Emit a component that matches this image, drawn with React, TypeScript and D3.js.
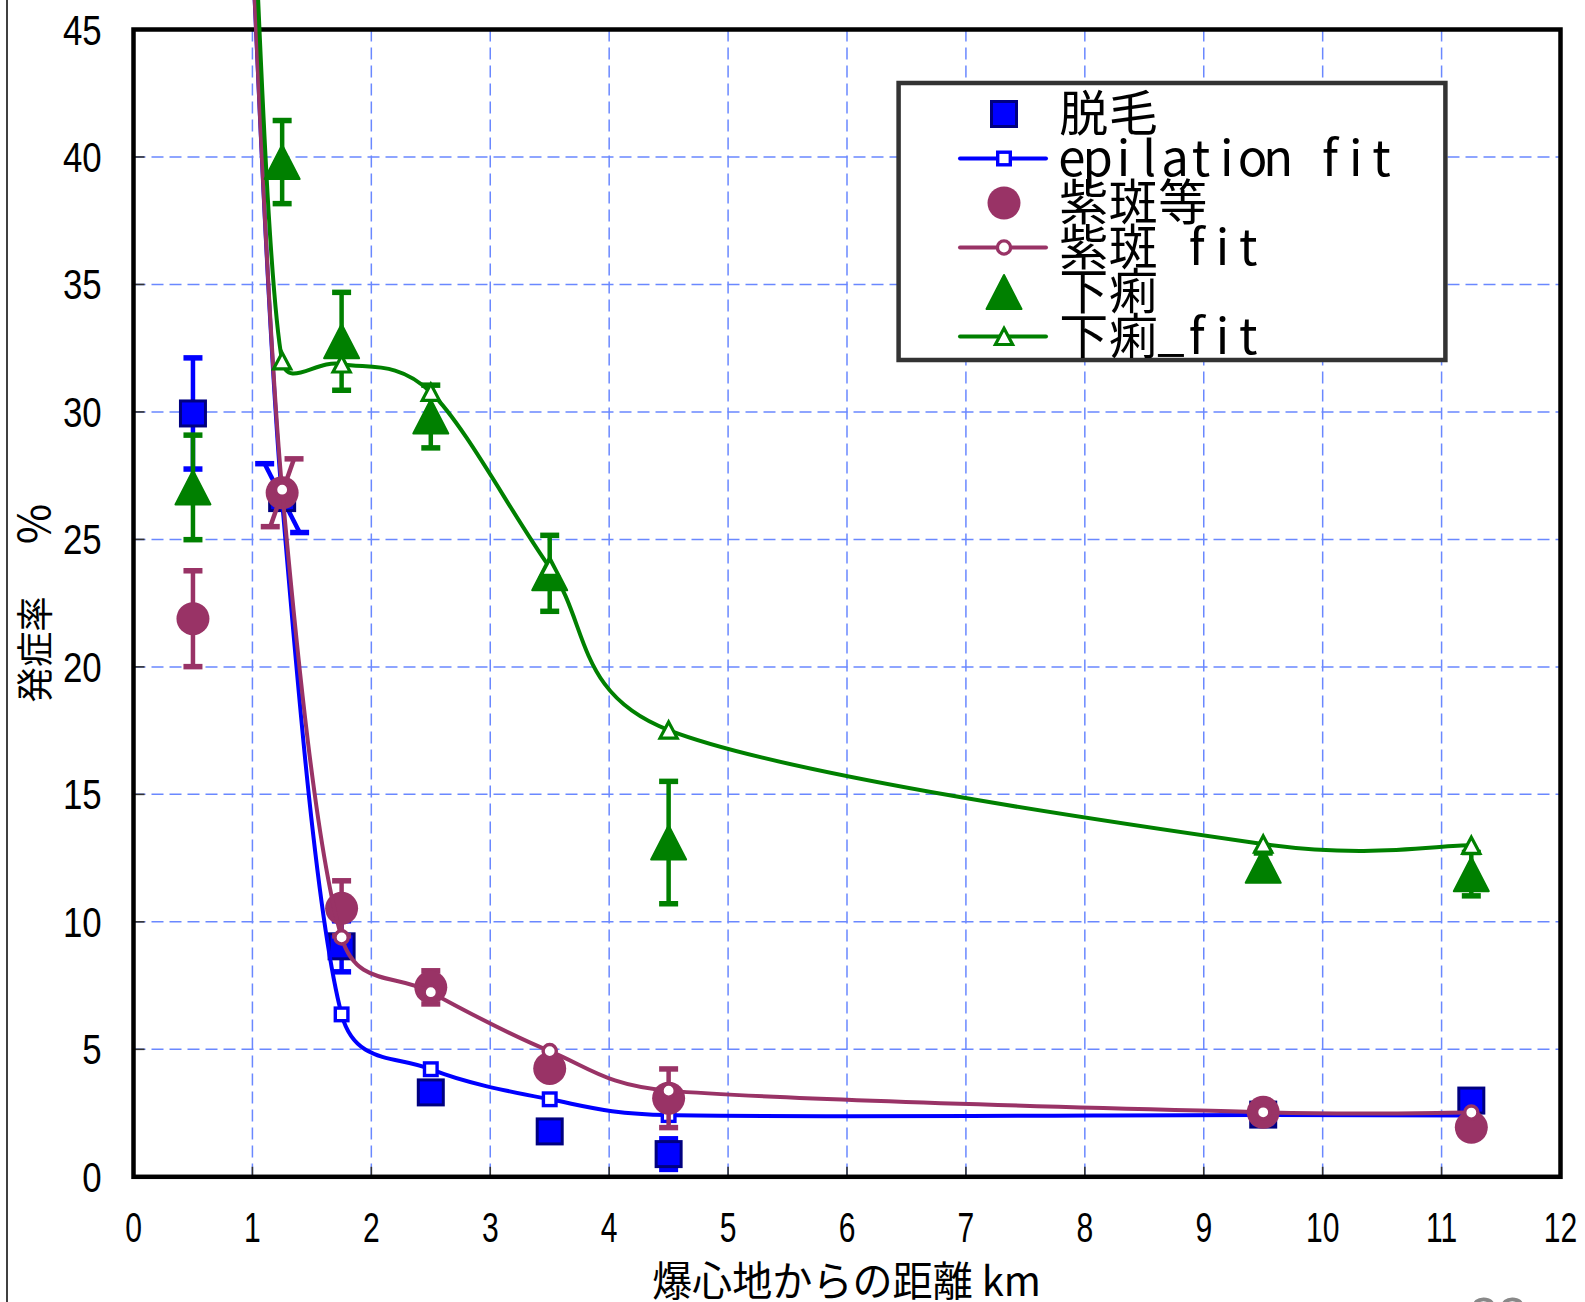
import React from 'react';
import * as d3 from 'd3';

// ---------- data ----------
const distances = [0.5, 1.25, 1.75, 2.5, 3.5, 4.5, 9.5, 11.25];
const epilation = [29.94, 26.62, 9.04, 3.31, 1.78, 0.89, 2.44, 2.99];
const epilationErr = [2.18, 1.35, 1.0, 0.3, 0.2, 0.6, 0.2, 0.2];
const purpura = [21.89, 26.83, 10.53, 7.43, 4.25, 3.08, 2.53, 1.94];
const purpuraErr = [1.88, 1.33, 1.08, 0.65, 0.3, 1.15, 0.3, 0.3];
const diarrhea = [27.04, 39.8, 32.77, 29.82, 23.67, 13.11, 12.2, 11.87];
const diarrheaErr = [2.05, 1.63, 1.92, 1.23, 1.49, 2.4, 0.5, 0.85];

const fitDistances = [1.0, 1.25, 1.75, 2.5, 3.5, 4.5, 9.5, 11.25];
const epilationFit = [48, 26.5, 6.37, 4.22, 3.04, 2.42, 2.42, 2.4];
const purpuraFit = [48, 26.95, 9.39, 7.24, 4.93, 3.38, 2.53, 2.52];
const diarrheaFit = [51, 32.0, 31.88, 30.77, 23.9, 17.52, 13.05, 13.0];

const xTickValues = d3.range(0, 13, 1);
const yTickValues = d3.range(0, 50, 5);

const legendLabels = ['脱毛', 'epilation fit', '紫斑等', '紫斑 fit', '下痢', '下痢_fit'];
const xTitle = '爆心地からの距離 km';
const yTitle = '発症率';
const yUnit = '％';

// ---------- styles ----------
const BLUE = '#0000FF';
const NAVY = '#000080';
const PURPLE = '#993366';
const GREEN = '#008000';
const GRID = '#6a88ff';

const W = 1585;
const H = 1302;
const x = d3.scaleLinear().domain([0, 12]).range([133.5, 1560.5]);
const y = d3.scaleLinear().domain([0, 45]).range([1176.8, 29.5]);

// spreadsheet-style smoothed line (cubic Bezier, Catmull-Rom tangents with limited handles)
function smoothPath(pts: [number, number][]): string {
  const P = pts.map(([a, b]) => [x(a), y(b)] as [number, number]);
  const p = d3.path();
  const n = P.length;
  if (!n) return '';
  p.moveTo(P[0][0], P[0][1]);
  const dist = (a: number[], b: number[]) => Math.hypot(b[0] - a[0], b[1] - a[1]);
  for (let i = 0; i < n - 1; i++) {
    const p0 = P[i - 1] ?? P[i];
    const p1 = P[i];
    const p2 = P[i + 1];
    const p3 = P[i + 2] ?? P[i + 1];
    const seg = dist(p1, p2);
    const cap = 0.5 * seg;
    const t1 = [(p2[0] - p0[0]) / 6, (p2[1] - p0[1]) / 6];
    const l1 = Math.hypot(t1[0], t1[1]);
    const s1 = l1 > cap ? cap / l1 : 1;
    const t2 = [(p3[0] - p1[0]) / 6, (p3[1] - p1[1]) / 6];
    const l2 = Math.hypot(t2[0], t2[1]);
    const s2 = l2 > cap ? cap / l2 : 1;
    p.bezierCurveTo(
      p1[0] + t1[0] * s1,
      p1[1] + t1[1] * s1,
      p2[0] - t2[0] * s2,
      p2[1] - t2[1] * s2,
      p2[0],
      p2[1]
    );
  }
  return p.toString();
}

// tilt (in km) of the error bar at the 2nd point for the two overlapping series
const tiltEpilation = [0, -0.147, 0, 0, 0, 0, 0, 0];
const tiltPurpura = [0, 0.1, 0, 0, 0, 0, 0, 0];
const tiltNone = [0, 0, 0, 0, 0, 0, 0, 0];

type MarkerKind = 'square' | 'circle' | 'triangle';

function FilledMarker({ kind, cx, cy }: { kind: MarkerKind; cx: number; cy: number }) {
  if (kind === 'square')
    return <rect x={cx - 12.5} y={cy - 12.5} width={25} height={25} fill={BLUE} stroke={NAVY} strokeWidth={3} />;
  if (kind === 'circle') return <circle cx={cx} cy={cy} r={16.5} fill={PURPLE} />;
  return (
    <path
      d={`M${cx},${cy - 17} L${cx + 17.5},${cy + 17} L${cx - 17.5},${cy + 17} Z`}
      fill={GREEN}
      stroke={GREEN}
      strokeWidth={2}
      strokeLinejoin="round"
    />
  );
}

function OpenMarker({ kind, cx, cy }: { kind: MarkerKind; cx: number; cy: number }) {
  if (kind === 'square')
    return <rect x={cx - 6.3} y={cy - 6.3} width={12.6} height={12.6} fill="#fff" stroke={BLUE} strokeWidth={3.4} />;
  if (kind === 'circle') return <circle cx={cx} cy={cy} r={6.6} fill="#fff" stroke={PURPLE} strokeWidth={3.4} />;
  return (
    <path
      d={`M${cx},${cy - 8.2} L${cx + 8.6},${cy + 8} L${cx - 8.6},${cy + 8} Z`}
      fill="#fff"
      stroke={GREEN}
      strokeWidth={3.2}
    />
  );
}

interface Series {
  values: number[];
  err: number[];
  tilt: number[];
  fit: number[];
  color: string;
  kind: MarkerKind;
}

const seriesList: Series[] = [
  { values: epilation, err: epilationErr, tilt: tiltEpilation, fit: epilationFit, color: BLUE, kind: 'square' },
  { values: purpura, err: purpuraErr, tilt: tiltPurpura, fit: purpuraFit, color: PURPLE, kind: 'circle' },
  { values: diarrhea, err: diarrheaErr, tilt: tiltNone, fit: diarrheaFit, color: GREEN, kind: 'triangle' },
];

function ErrorBar({ xv, yv, e, t, color }: { xv: number; yv: number; e: number; t: number; color: string }) {
  const xt = x(xv + t);
  const xb = x(xv - t);
  const yt = y(yv + e);
  const yb = y(yv - e);
  const cap = 9.5;
  return (
    <g stroke={color}>
      <line x1={xt} y1={yt} x2={xb} y2={yb} strokeWidth={4.5} />
      <line x1={xt - cap} x2={xt + cap} y1={yt} y2={yt} strokeWidth={5.5} />
      <line x1={xb - cap} x2={xb + cap} y1={yb} y2={yb} strokeWidth={5.5} />
    </g>
  );
}

function MonoText({ text, x0, baseline, size }: { text: string; x0: number; baseline: number; size: number }) {
  const half = 25.8;
  const full = 49.5;
  let cx = x0;
  const items: React.ReactNode[] = [];
  Array.from(text).forEach((ch, i) => {
    const wide = ch.charCodeAt(0) > 0x2e80;
    const w = wide ? full : half;
    if (ch !== ' ') {
      items.push(
        <text key={i} x={cx + w / 2} y={ch === '_' ? baseline - 4 : baseline} textAnchor="middle" fontSize={size}>
          {ch}
        </text>
      );
    }
    cx += w;
  });
  return <g>{items}</g>;
}

export default function App() {
  const left = x(0);
  const right = x(12);
  const top = y(45);
  const bottom = y(0);

  const legend = { x: 898.6, y: 83, w: 546.8, h: 277 };
  const rowY0 = 114;
  const rowStep = 44.5;
  const symX = 1004;

  return (
    <svg
      width={W}
      height={H}
      viewBox={`0 0 ${W} ${H}`}
      style={{ position: 'absolute', left: 0, top: 0, display: 'block', background: '#fff' }}
      fontFamily="'Noto Sans CJK JP', sans-serif"
    >
      <rect x={0} y={0} width={W} height={H} fill="#fff" />
      {/* slide edge */}
      <line x1={7} x2={7} y1={0} y2={H} stroke="#000" strokeWidth={1.5} />

      {/* grid */}
      <g stroke={GRID} strokeWidth={1.5} strokeDasharray="12 6">
        {xTickValues.slice(1, -1).map((v) => (
          <line key={'gx' + v} x1={x(v)} x2={x(v)} y1={top} y2={bottom} />
        ))}
        {yTickValues.slice(1, -1).map((v) => (
          <line key={'gy' + v} x1={left} x2={right} y1={y(v)} y2={y(v)} />
        ))}
      </g>

      {/* ticks */}
      <g stroke="#333" strokeWidth={1.6}>
        {xTickValues.map((v) => (
          <line key={'tx' + v} x1={x(v)} x2={x(v)} y1={bottom} y2={bottom - 10} />
        ))}
        {yTickValues.map((v) => (
          <line key={'ty' + v} x1={left} x2={left + 11} y1={y(v)} y2={y(v)} />
        ))}
      </g>

      {/* frame */}
      <rect x={left} y={top} width={right - left} height={bottom - top} fill="none" stroke="#000" strokeWidth={4.5} />

      {/* y tick labels */}
      <g fontFamily="'Liberation Sans', Arial, sans-serif" fontSize={42} fill="#000">
        {yTickValues.map((v) => (
          <g key={'ly' + v} transform={`translate(101.7, ${y(v) + 15}) scale(0.83,1)`}>
            <text x={0} y={0} textAnchor="end">
              {v}
            </text>
          </g>
        ))}
      </g>

      {/* x tick labels */}
      <g fontFamily="'Liberation Sans', Arial, sans-serif" fontSize={43} fill="#000">
        {xTickValues.map((v) => (
          <g key={'lx' + v} transform={`translate(${x(v)}, 1241.7) scale(0.7,1)`}>
            <text x={0} y={0} textAnchor="middle">
              {v}
            </text>
          </g>
        ))}
      </g>

      {/* axis titles */}
      <text
        x={846.5}
        y={1296}
        textAnchor="middle"
        fontSize={41}
        textLength={389}
        lengthAdjust="spacingAndGlyphs"
      >
        {xTitle}
      </text>
      <g transform="translate(35, 649.4) rotate(-90)">
        <text x={0} y={0} dy="0.37em" textAnchor="middle" fontSize={37} textLength={106} lengthAdjust="spacingAndGlyphs">
          {yTitle}
        </text>
      </g>
      <g transform="translate(35, 524) rotate(-90)">
        <text x={0} y={0} dy="0.37em" textAnchor="middle" fontSize={44}>
          {yUnit}
        </text>
      </g>

      {/* series */}
      {seriesList.map((s, si) => {
        const fitPts: [number, number][] = fitDistances.map((d, i) => [d, s.fit[i]]);
        return (
          <g key={'s' + si}>
            {distances.map((d, i) => (
              <ErrorBar key={'e' + i} xv={d} yv={s.values[i]} e={s.err[i]} t={s.tilt[i]} color={s.color} />
            ))}
            {distances.map((d, i) => (
              <FilledMarker key={'m' + i} kind={s.kind} cx={x(d)} cy={y(s.values[i])} />
            ))}
            <path d={smoothPath(fitPts)} fill="none" stroke={s.color} strokeWidth={4} />
            {fitPts.map((p, i) => (
              <OpenMarker key={'o' + i} kind={s.kind} cx={x(p[0])} cy={y(p[1])} />
            ))}
          </g>
        );
      })}

      {/* legend */}
      <defs>
        <clipPath id="legclip">
          <rect x={legend.x + 2} y={legend.y + 2} width={legend.w - 4} height={legend.h - 4} />
        </clipPath>
      </defs>
      <rect x={legend.x} y={legend.y} width={legend.w} height={legend.h} fill="#fff" stroke="#333" strokeWidth={4.5} />
      <g clipPath="url(#legclip)">
        {legendLabels.map((lab, i) => {
          const ry = rowY0 + i * rowStep;
          const s = seriesList[Math.floor(i / 2)];
          const isFit = i % 2 === 1;
          return (
            <g key={'lg' + i}>
              {isFit ? (
                <>
                  <line x1={960} x2={1046} y1={ry} y2={ry} stroke={s.color} strokeWidth={4} strokeLinecap="round" />
                  <OpenMarker kind={s.kind} cx={symX} cy={ry} />
                </>
              ) : (
                <FilledMarker kind={s.kind} cx={symX} cy={ry} />
              )}
              <MonoText text={lab} x0={1059} baseline={ry + 17} size={49} />
            </g>
          );
        })}
      </g>

      {/* page number (cut off) */}
      <text x={1498} y={1334} textAnchor="middle" fontFamily="'Liberation Sans', Arial, sans-serif" fontSize={52} fill="#888">
        23
      </text>
    </svg>
  );
}
